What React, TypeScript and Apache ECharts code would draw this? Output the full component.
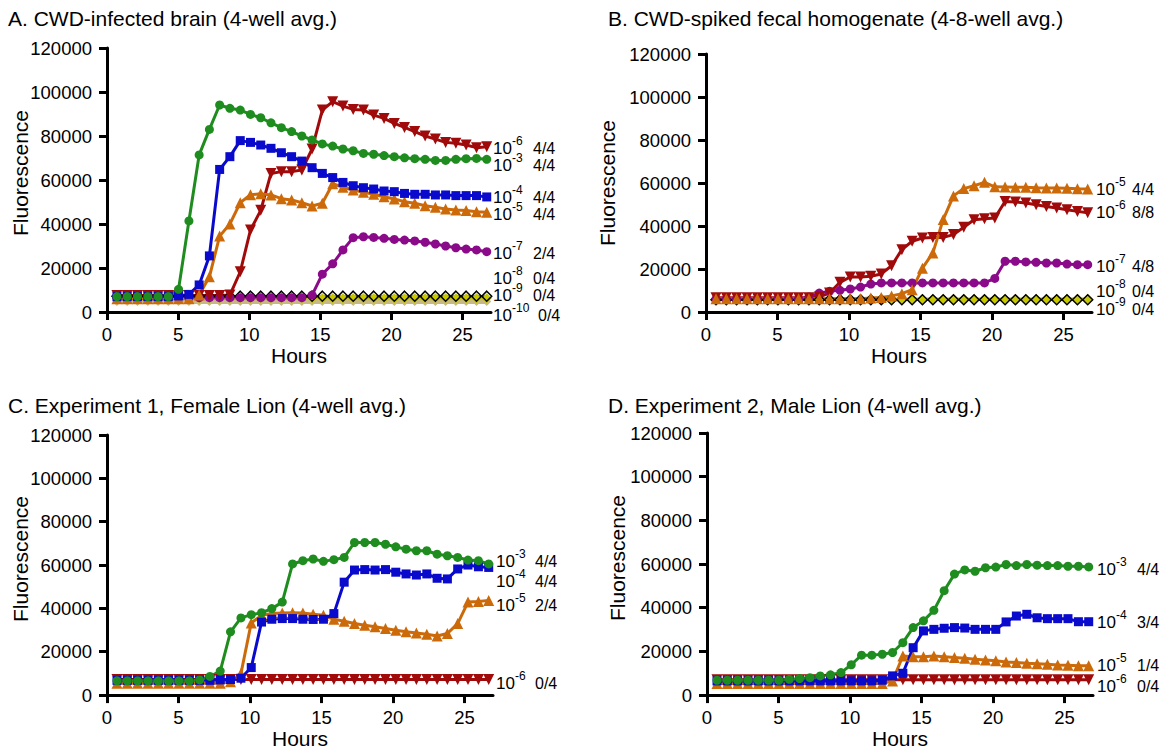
import React, { useEffect, useRef } from "react";
import * as echarts from "echarts";

// ---------- DATA ----------
const hours = [0.7, 1.42, 2.14, 2.87, 3.59, 4.31, 5.03, 5.76, 6.48, 7.2, 7.92, 8.64, 9.37, 10.09, 10.81, 11.53, 12.26, 12.98, 13.7, 14.42, 15.14, 15.87, 16.59, 17.31, 18.03, 18.75, 19.48, 20.2, 20.92, 21.64, 22.37, 23.09, 23.81, 24.53, 25.25, 25.98, 26.7];

const xTicks = [0, 5, 10, 15, 20, 25];

const titles = [
  "A. CWD-infected brain (4-well avg.)",
  "B. CWD-spiked fecal homogenate (4-8-well avg.)",
  "C. Experiment 1, Female Lion (4-well avg.)",
  "D. Experiment 2, Male Lion (4-well avg.)",
];

// Panel A
const A_m3 = [7000, 7000, 7000, 7000, 7000, 7000, 10300, 41400, 71400, 83000, 94100, 92600, 91800, 89800, 88300, 86000, 83800, 82000, 80000, 78200, 76400, 75400, 74100, 73300, 72100, 71700, 71100, 70600, 70100, 69700, 69400, 68900, 68900, 69400, 69700, 69800, 69400];
const A_m4 = [7000, 7000, 7000, 7000, 7000, 7000, 7300, 8000, 12300, 25500, 64800, 70600, 77900, 77100, 75900, 74400, 72400, 70600, 68600, 65600, 63000, 61100, 58900, 57400, 56500, 55900, 55000, 54700, 53900, 53500, 53500, 53200, 53200, 52900, 52900, 52900, 52300];
const A_m5 = [6000, 6000, 6000, 6000, 6000, 6000, 6000, 6000, 7700, 16000, 34500, 40000, 49700, 53300, 53700, 53200, 51500, 50900, 49700, 48200, 49400, 58300, 56700, 55400, 54400, 53500, 52400, 51400, 50100, 49400, 48300, 47600, 46800, 46400, 46100, 45600, 45300];
const A_m6 = [7500, 7500, 7500, 7500, 7500, 7500, 7500, 7500, 7500, 7500, 7500, 7700, 18300, 37300, 46200, 63000, 63800, 63800, 64500, 74100, 91800, 95600, 93600, 92100, 91800, 89500, 88000, 85700, 83900, 82000, 80000, 78600, 77100, 76700, 75900, 74700, 75100];
const A_m7 = [6500, 6500, 6500, 6500, 6500, 6500, 6500, 6500, 6500, 6500, 6500, 6500, 6500, 6500, 6500, 6500, 6500, 6500, 6500, 7700, 17200, 21900, 28200, 33800, 34200, 33900, 33500, 33000, 32700, 32300, 31700, 30900, 30000, 29200, 28600, 28200, 27400];
const A_m8 = [7200, 7200, 7200, 7200, 7200, 7200, 7200, 7200, 7200, 7200, 7200, 7200, 7200, 7200, 7200, 7200, 7200, 7200, 7200, 7200, 7200, 7200, 7200, 7200, 7200, 7200, 7200, 7200, 7200, 7200, 7200, 7200, 7200, 7200, 7200, 7200, 7200];
const A_m9 = [6300, 6300, 6300, 6300, 6300, 6300, 6300, 6300, 6300, 6300, 6300, 6300, 6300, 6300, 6300, 6300, 6300, 6300, 6300, 6300, 6300, 6300, 6300, 6300, 6300, 6300, 6300, 6300, 6300, 6300, 6300, 6300, 6300, 6300, 6300, 6300, 6300];
const A_m10 = [4800, 4800, 4800, 4800, 4800, 4800, 4800, 4800, 4800, 4800, 4800, 4800, 4800, 4800, 4800, 4800, 4800, 4800, 4800, 4800, 4800, 4800, 4800, 4800, 4800, 4800, 4800, 4800, 4800, 4800, 4800, 4800, 4800, 4800, 4800, 4800, 4800];

// Panel B
const B_m5 = [6200, 6200, 6200, 6200, 6200, 6200, 6200, 6200, 6200, 6200, 6200, 6200, 6200, 6200, 6200, 6500, 6800, 7500, 8500, 10400, 20400, 27500, 43000, 54000, 57400, 58700, 60300, 58200, 58100, 58000, 58000, 57800, 57700, 57700, 57600, 57300, 57200];
const B_m6 = [6600, 6600, 6600, 6600, 6600, 6600, 6600, 6600, 6600, 6600, 7000, 8800, 13800, 16300, 16300, 16600, 17700, 21500, 29000, 32900, 34400, 34700, 34700, 36000, 39400, 42900, 43400, 43700, 51400, 51200, 50700, 49900, 49100, 48400, 47600, 46800, 46200];
const B_m7 = [6000, 6000, 6000, 6000, 6000, 6000, 6000, 6000, 6000, 7000, 8800, 9600, 10100, 10700, 11600, 13000, 13500, 13500, 13500, 13500, 13500, 13500, 13500, 13500, 13500, 13500, 13500, 15600, 23600, 23600, 23300, 23100, 22800, 22800, 22300, 22000, 22000];
const B_m8 = [5700, 5700, 5700, 5700, 5700, 5700, 5700, 5700, 5700, 5700, 5700, 5700, 5700, 5700, 5700, 5700, 5700, 5700, 5700, 5700, 5700, 5700, 5700, 5700, 5700, 5700, 5700, 5700, 5700, 5700, 5700, 5700, 5700, 5700, 5700, 5700, 5700];
const B_m9 = [6000, 6000, 6000, 6000, 6000, 6000, 6000, 6000, 6000, 6000, 6000, 6000, 6000, 6000, 6000, 6000, 6000, 6000, 6000, 6000, 6000, 6000, 6000, 6000, 6000, 6000, 6000, 6000, 6000, 6000, 6000, 6000, 6000, 6000, 6000, 6000, 6000];

// Panel C
const C_m3 = [6600, 6600, 6600, 6600, 6600, 6600, 6600, 6600, 7000, 8600, 11100, 29200, 35600, 37100, 38000, 39900, 42900, 60500, 62000, 62800, 61700, 62500, 63500, 70400, 70400, 70400, 69600, 68400, 67300, 66600, 66600, 65000, 64300, 63500, 62300, 62000, 60500];
const C_m4 = [6800, 6800, 6800, 6800, 6800, 6800, 6800, 6800, 6800, 6800, 7000, 7200, 7800, 12700, 33700, 35000, 35300, 35300, 35000, 34900, 35000, 37600, 52100, 57700, 57900, 57700, 57900, 56700, 55900, 55400, 55900, 53900, 53600, 58200, 60000, 59200, 58900];
const C_m5 = [5500, 5500, 5500, 5500, 5500, 5500, 5500, 5500, 5500, 5500, 5500, 6200, 10000, 33300, 36800, 37600, 37900, 38000, 37900, 37300, 36800, 35000, 34100, 33000, 32200, 31500, 30700, 29900, 29200, 28700, 28100, 27300, 28400, 33000, 42900, 43200, 43700];
const C_m6 = [7200, 7200, 7200, 7200, 7200, 7200, 7200, 7200, 7200, 7200, 7200, 7200, 7200, 7200, 7200, 7200, 7200, 7200, 7200, 7200, 7200, 7200, 7200, 7200, 7200, 7200, 7200, 7200, 7200, 7200, 7200, 7200, 7200, 7200, 7200, 7200, 7200];

// Panel D
const D_m3 = [6800, 6800, 6800, 6800, 6800, 6800, 6800, 7200, 7600, 8000, 8800, 9300, 10300, 13900, 18300, 18300, 18700, 19500, 24000, 30900, 34000, 38800, 47800, 55400, 57300, 56700, 58300, 58600, 59800, 59300, 59800, 59500, 59300, 59300, 59000, 59000, 58700];
const D_m4 = [6500, 6500, 6500, 6500, 6500, 6500, 6500, 6500, 6500, 6500, 6500, 6500, 6500, 6500, 6500, 6500, 6800, 8800, 10000, 21700, 29400, 30100, 30600, 30900, 30700, 30100, 30100, 30100, 33500, 36200, 37000, 35400, 35000, 35000, 35000, 33600, 33600];
const D_m5 = [5300, 5300, 5300, 5300, 5300, 5300, 5300, 5300, 5300, 5300, 5300, 5300, 5300, 5300, 5300, 5300, 5300, 6500, 17900, 17600, 17600, 17900, 17600, 17200, 16900, 16400, 16100, 15700, 15200, 14900, 14600, 14400, 14100, 13800, 13700, 13400, 13400];
const D_m6 = [7000, 7000, 7000, 7000, 7000, 7000, 7000, 7000, 7000, 7000, 7000, 7000, 7000, 7000, 7000, 7000, 7000, 7000, 7000, 7000, 7000, 7000, 7000, 7000, 7000, 7000, 7000, 7000, 7000, 7000, 7000, 7000, 7000, 7000, 7000, 7000, 7000];

// End labels: [exponent, positive wells]
const A_labels = [["-6", "4/4"], ["-3", "4/4"], ["-4", "4/4"], ["-5", "4/4"], ["-7", "2/4"], ["-8", "0/4"], ["-9", "0/4"], ["-10", "0/4"]];
const B_labels = [["-5", "4/4"], ["-6", "8/8"], ["-7", "4/8"], ["-8", "0/4"], ["-9", "0/4"]];
const C_labels = [["-3", "4/4"], ["-4", "4/4"], ["-5", "2/4"], ["-6", "0/4"]];
const D_labels = [["-3", "4/4"], ["-4", "3/4"], ["-5", "1/4"], ["-6", "0/4"]];

// ---------- LAYOUT / STYLE ----------
const FONT = "'Liberation Sans', Arial, Helvetica, sans-serif";
const COL = {
  g: "#1E8C1E",
  b: "#0A0ACC",
  o: "#CC6A0A",
  r: "#A00A0A",
  p: "#8A0A8A",
  k: "#000000",
  y: "#C8C800",
  t: "#C8B882",
};

const grids = [
  { left: 107, top: 48, width: 384, height: 264 },
  { left: 706, top: 54, width: 386, height: 258 },
  { left: 107, top: 435, width: 386, height: 262 },
  { left: 707, top: 433, width: 386, height: 263 },
];
const titlePos = [
  [8, 18],
  [608, 18],
  [8, 405],
  [608, 405],
];
const yNamePos = [
  [20, 173],
  [607, 183],
  [20, 559],
  [617, 558],
];
const labelLayout = [
  { x: 493, fx: 40, ys: [148, 165, 197, 214, 253, 278, 295, 315] },
  { x: 1096, fx: 36, ys: [189, 212, 266, 291, 309] },
  { x: 496, fx: 39, ys: [561, 581, 605, 683] },
  { x: 1097, fx: 40, ys: [569, 622, 665, 686] },
];

function line(vals: number[], gi: number, color: string, symbol: string, size: number, extra: any = {}) {
  return {
    type: "line",
    xAxisIndex: gi,
    yAxisIndex: gi,
    data: hours.map((h, i) => [h, vals[i]]),
    symbol,
    symbolSize: size,
    showSymbol: true,
    clip: false,
    lineStyle: { color, width: 3 },
    itemStyle: { color },
    emphasis: { disabled: true },
    ...extra,
  };
}

const down = { symbolRotate: 180 };

export default function App() {
  const ref = useRef<HTMLDivElement>(null);
  useEffect(() => {
    if (!ref.current) return;
    const chart = echarts.init(ref.current, undefined, { renderer: "svg" });

    const xAxes = grids.map((_, i) => ({
      type: "value",
      gridIndex: i,
      min: 0,
      max: 27,
      name: "Hours",
      nameLocation: "middle",
      nameGap: 31,
      nameTextStyle: { fontSize: 21, color: "#000", fontFamily: FONT },
      axisLine: { show: true, onZero: false, lineStyle: { color: "#000", width: 3 } },
      axisTick: { show: true, length: 8, inside: false, customValues: xTicks, lineStyle: { color: "#000", width: 3 } },
      axisLabel: { customValues: xTicks, fontSize: 18.5, color: "#000", margin: 13, fontFamily: FONT },
      splitLine: { show: false },
    }));
    const yAxes = grids.map((_, i) => ({
      type: "value",
      gridIndex: i,
      min: 0,
      max: 120000,
      interval: 20000,
      axisLine: { show: true, onZero: false, lineStyle: { color: "#000", width: 3 } },
      axisTick: { show: true, length: 8, inside: false, lineStyle: { color: "#000", width: 3 } },
      axisLabel: { fontSize: 18.5, color: "#000", margin: 15, fontFamily: FONT, formatter: (v: number) => String(v) },
      splitLine: { show: false },
    }));

    const diamondBlack = {
      itemStyle: { color: "rgba(0,0,0,0)", borderColor: "#000", borderWidth: 1.5 },
      lineStyle: { color: "#000", width: 1.5 },
    };

    const series = [
      // A
      line(A_m10, 0, COL.t, "diamond", 9, { lineStyle: { color: COL.t, width: 5 } }),
      line(A_m9, 0, COL.y, "diamond", 10),
      line(A_m8, 0, COL.k, "diamond", 10, diamondBlack),
      line(A_m7, 0, COL.p, "circle", 9),
      line(A_m6, 0, COL.r, "triangle", 11, down),
      line(A_m5, 0, COL.o, "triangle", 11),
      line(A_m4, 0, COL.b, "rect", 9),
      line(A_m3, 0, COL.g, "circle", 9),
      // B
      line(B_m9, 1, COL.y, "diamond", 10),
      line(B_m8, 1, COL.k, "diamond", 10, diamondBlack),
      line(B_m7, 1, COL.p, "circle", 9),
      line(B_m6, 1, COL.r, "triangle", 11, down),
      line(B_m5, 1, COL.o, "triangle", 11),
      // C
      line(C_m6, 2, COL.r, "triangle", 11, down),
      line(C_m5, 2, COL.o, "triangle", 11),
      line(C_m4, 2, COL.b, "rect", 9),
      line(C_m3, 2, COL.g, "circle", 9),
      // D
      line(D_m6, 3, COL.r, "triangle", 11, down),
      line(D_m5, 3, COL.o, "triangle", 11),
      line(D_m4, 3, COL.b, "rect", 9),
      line(D_m3, 3, COL.g, "circle", 9),
    ];

    const graphics: any[] = [];
    titles.forEach((t, i) => {
      graphics.push({
        type: "text",
        x: titlePos[i][0],
        y: titlePos[i][1],
        style: { text: t, fontSize: 21, fontFamily: FONT, fill: "#000", align: "left", verticalAlign: "middle" },
      });
      graphics.push({
        type: "text",
        x: yNamePos[i][0],
        y: yNamePos[i][1],
        rotation: Math.PI / 2,
        style: { text: "Fluorescence", fontSize: 21, fontFamily: FONT, fill: "#000", align: "center", verticalAlign: "middle" },
      });
    });
    [A_labels, B_labels, C_labels, D_labels].forEach((labels, pi) => {
      const L = labelLayout[pi];
      labels.forEach((lab, j) => {
        const y = L.ys[j];
        const extra = lab[0].length > 2 ? 5 : 0;
        graphics.push({
          type: "text", x: L.x, y,
          style: { text: "10", fontSize: 17, lineHeight: 11, fontFamily: FONT, fill: "#000", align: "left", verticalAlign: "middle" },
        });
        graphics.push({
          type: "text", x: L.x + 19, y: y - 7,
          style: { text: lab[0], fontSize: 12, lineHeight: 9, fontFamily: FONT, fill: "#000", align: "left", verticalAlign: "middle" },
        });
        graphics.push({
          type: "text", x: L.x + L.fx + extra, y,
          style: { text: lab[1], fontSize: 16, lineHeight: 11, fontFamily: FONT, fill: "#000", align: "left", verticalAlign: "middle" },
        });
      });
    });

    chart.setOption({
      animation: false,
      backgroundColor: "#ffffff",
      grid: grids.map((g) => ({ ...g, containLabel: false })),
      xAxis: xAxes,
      yAxis: yAxes,
      series,
      graphic: graphics,
    });
    return () => chart.dispose();
  }, []);

  return <div ref={ref} style={{ position: "absolute", left: 0, top: 0, width: 1160, height: 750 }} />;
}
